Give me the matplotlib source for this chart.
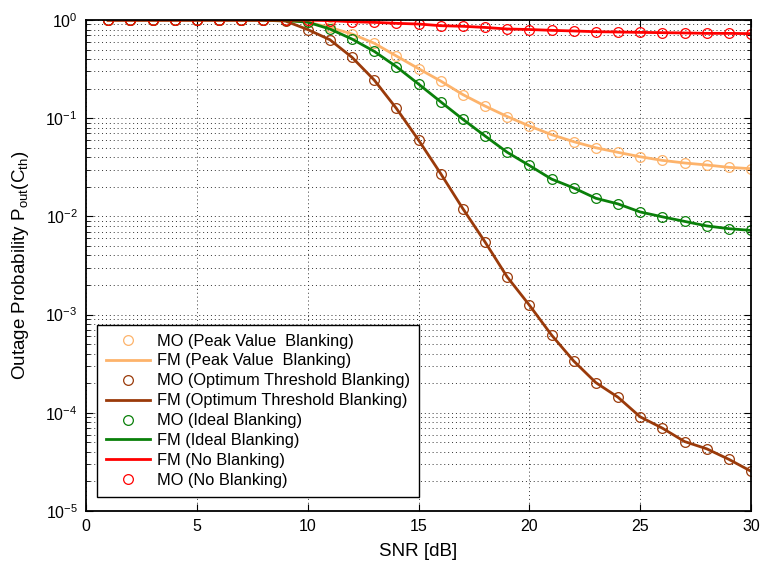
import matplotlib
matplotlib.use("Agg")
import matplotlib.pyplot as plt
import numpy as np
from matplotlib.ticker import LogLocator, MultipleLocator, NullFormatter

plt.rcParams["font.family"] = ["Liberation Sans", "DejaVu Sans"]
plt.rcParams["mathtext.fontset"] = "custom"
plt.rcParams["mathtext.rm"] = "Liberation Sans"
plt.rcParams["mathtext.it"] = "Liberation Sans:italic"
plt.rcParams["mathtext.bf"] = "Liberation Sans:bold"

snr_db = np.arange(1, 31)

# outage probabilities per SNR step (1..30 dB)
p_peak = [1.0, 1.0, 1.0, 1.0, 1.0, 1.0, 1.0, 0.998, 0.99, 0.95,
          0.84, 0.72, 0.58, 0.43, 0.32, 0.239, 0.174, 0.133, 0.104, 0.0833,
          0.068, 0.0577, 0.050, 0.0449, 0.0405, 0.0372, 0.035, 0.0334, 0.0316, 0.0306]
p_opt = [1.0, 1.0, 1.0, 1.0, 1.0, 1.0, 0.999, 0.995, 0.975, 0.80,
         0.63, 0.417, 0.245, 0.126, 0.060, 0.0273, 0.012, 0.0055, 0.00242, 0.00125,
         6.2e-4, 3.37e-4, 2.03e-4, 1.44e-4, 9.1e-5, 6.98e-5, 5.1e-5, 4.3e-5, 3.36e-5, 2.54e-5]
p_ideal = [1.0, 1.0, 1.0, 1.0, 1.0, 1.0, 1.0, 0.998, 0.99, 0.95,
           0.81, 0.64, 0.48, 0.335, 0.223, 0.147, 0.0975, 0.066, 0.045, 0.033,
           0.024, 0.0195, 0.0153, 0.0134, 0.0111, 0.0099, 0.0089, 0.0080, 0.0075, 0.0072]
p_none = [1.0, 1.0, 1.0, 1.0, 1.0, 1.0, 1.0, 1.0, 1.0, 0.998,
          0.985, 0.96, 0.946, 0.925, 0.91, 0.875, 0.863, 0.84, 0.81, 0.80,
          0.785, 0.773, 0.76, 0.755, 0.748, 0.743, 0.738, 0.731, 0.731, 0.726]

c_peak = "#FDB36B"
c_opt = "#9A3A0A"
c_ideal = "#0A800A"
c_none = "#FF0000"

fig = plt.figure(figsize=(7.6, 5.71), dpi=100)
ax = fig.add_axes([86 / 760, 60 / 571, 665 / 760, 491 / 571])

lw = 2.0
ms = 7
mew = 0.9
mo = dict(linestyle="none", marker="o", markersize=ms, markerfacecolor="none", markeredgewidth=mew)

ax.plot(snr_db, p_peak, color=c_peak, label="MO (Peak Value  Blanking)", **mo)
ax.plot(snr_db, p_peak, color=c_peak, lw=lw, label="FM (Peak Value  Blanking)")
ax.plot(snr_db, p_opt, color=c_opt, label="MO (Optimum Threshold Blanking)", **mo)
ax.plot(snr_db, p_opt, color=c_opt, lw=lw, label="FM (Optimum Threshold Blanking)")
ax.plot(snr_db, p_ideal, color=c_ideal, label="MO (Ideal Blanking)", **mo)
ax.plot(snr_db, p_ideal, color=c_ideal, lw=lw, label="FM (Ideal Blanking)")
ax.plot(snr_db, p_none, color=c_none, lw=lw, label="FM (No Blanking)")
ax.plot(snr_db, p_none, color=c_none, label="MO (No Blanking)", **mo)

ax.set_yscale("log")
ax.set_xlim(0, 30)
ax.set_ylim(1e-5, 1)
ax.xaxis.set_major_locator(MultipleLocator(5))
ax.yaxis.set_major_locator(LogLocator(base=10, numticks=10))
ax.yaxis.set_minor_locator(LogLocator(base=10, subs=np.arange(2, 10), numticks=20))
ax.yaxis.set_minor_formatter(NullFormatter())

ax.grid(True, which="major", axis="both", color="0.2", linestyle=(0, (1, 3)), linewidth=0.7)
ax.grid(True, which="minor", axis="y", color="0.2", linestyle=(0, (1, 3)), linewidth=0.7)

ax.tick_params(which="both", direction="in", top=True, right=True, labelsize=11.5)
ax.tick_params(which="major", length=5, width=0.8)
ax.tick_params(which="minor", length=3, width=0.6)
ax.tick_params(axis="x", which="major", pad=6)
ax.tick_params(axis="y", which="major", pad=6)
for s in ax.spines.values():
    s.set_linewidth(1.3)

ax.set_xlabel("SNR [dB]", fontsize=13.5, labelpad=6)
ax.set_ylabel(r"Outage Probability P$_{\mathrm{out}}$(C$_{\mathrm{th}}$)", fontsize=13.5, labelpad=10)

leg = ax.legend(loc="lower left", bbox_to_anchor=(0.0165, 0.0285), fontsize=11.8,
                frameon=True, fancybox=False, edgecolor="black", framealpha=1,
                borderaxespad=0, labelspacing=0.3, handlelength=2.7, handletextpad=0.4,
                borderpad=0.55)
leg.get_frame().set_linewidth(1.0)

fig.savefig("out.png", dpi=100)
